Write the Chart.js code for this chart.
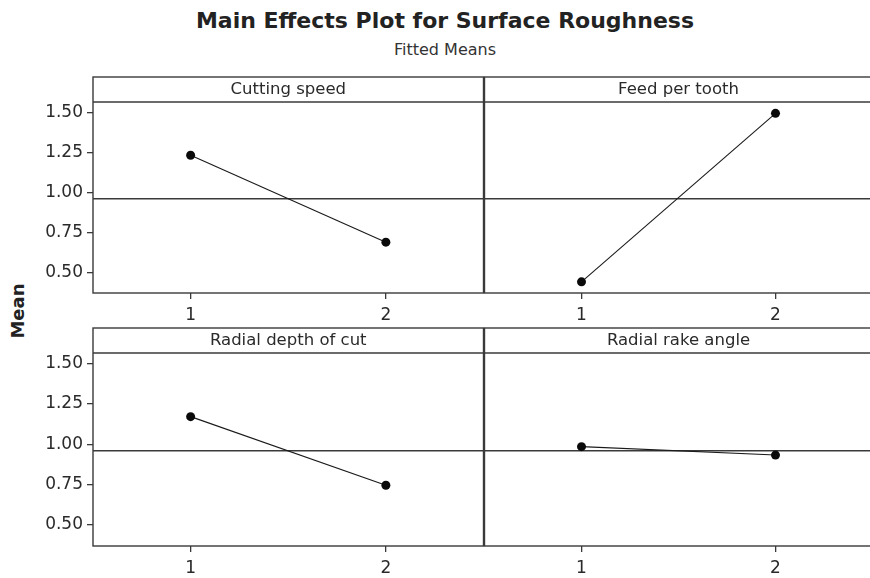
<!DOCTYPE html>
<html lang="en">
<head>
    <meta charset="UTF-8">
    <title>Main Effects Plot for Surface Roughness</title>
    <script src="https://cdnjs.cloudflare.com/ajax/libs/Chart.js/4.4.0/chart.umd.min.js"></script>
    <style>
        body {
            margin: 0;
            width: 870px;
            height: 578px;
            overflow: hidden;
            position: relative;
            background: #fff;
            font-family: "DejaVu Sans", sans-serif;
            color: #222;
        }
        .title {
            position: absolute;
            left: 0;
            width: 890px;
            top: 8px;
            text-align: center;
            font-weight: bold;
            font-size: 22px;
            line-height: 26px;
        }
        .subtitle {
            position: absolute;
            left: 0;
            width: 890px;
            top: 40px;
            text-align: center;
            font-size: 16px;
            line-height: 19px;
            color: #333;
        }
        .ylabel {
            position: absolute;
            left: 17px;
            top: 311px;
            font-weight: bold;
            font-size: 18px;
            transform: translate(-50%, -50%) rotate(-90deg);
        }
        .panel {
            position: absolute;
        }
    </style>
</head>
<body>
    <div class="title">Main Effects Plot for Surface Roughness</div>
    <div class="subtitle">Fitted Means</div>
    <div class="ylabel">Mean</div>

    <canvas id="p0" class="panel" width="488" height="255" style="left:0px;top:70px"></canvas>
    <canvas id="p1" class="panel" width="397" height="255" style="left:480px;top:70px"></canvas>
    <canvas id="p2" class="panel" width="488" height="256" style="left:0px;top:322px"></canvas>
    <canvas id="p3" class="panel" width="397" height="256" style="left:480px;top:322px"></canvas>

    <script>
        // factor names and fitted means at levels 1 and 2
        const factors = ['Cutting speed', 'Feed per tooth', 'Radial depth of cut', 'Radial rake angle'];
        const levels = [1, 2];
        const cuttingSpeed = [1.232, 0.688];
        const feedPerTooth = [0.440, 1.494];
        const radialDepth = [1.171, 0.746];
        const rakeAngle = [0.985, 0.933];
        const grandMean = 0.96;
        const yTicks = [0.50, 0.75, 1.00, 1.25, 1.50];

        const series = [cuttingSpeed, feedPerTooth, radialDepth, rakeAngle];
        const lineColor = '#3a3a3a';
        const textColor = '#2a2a2a';
        const headerHeight = 25;

        // panel box, header strip and grand mean line
        const panelFrame = {
            id: 'panelFrame',
            beforeDatasetsDraw(chart, args, opts) {
                const ctx = chart.ctx;
                const a = chart.chartArea;
                const yPix = chart.scales.y.getPixelForValue(grandMean);
                ctx.save();
                ctx.strokeStyle = lineColor;
                ctx.lineWidth = 1.4;
                ctx.beginPath();
                ctx.moveTo(a.left, yPix);
                ctx.lineTo(a.right, yPix);
                ctx.stroke();
                ctx.strokeRect(a.left, a.top - headerHeight, a.right - a.left, a.bottom - a.top + headerHeight);
                ctx.beginPath();
                ctx.moveTo(a.left, a.top);
                ctx.lineTo(a.right, a.top);
                ctx.stroke();
                ctx.fillStyle = textColor;
                ctx.font = '16.5px "DejaVu Sans"';
                ctx.textAlign = 'center';
                ctx.textBaseline = 'middle';
                ctx.fillText(opts.title, (a.left + a.right) / 2, a.top - headerHeight / 2);
                ctx.restore();
            }
        };

        function makePanel(idx) {
            const isLeft = idx % 2 === 0;
            const isTop = idx < 2;
            const values = series[idx];
            new Chart(document.getElementById('p' + idx), {
                type: 'line',
                data: {
                    datasets: [{
                        data: values.map((v, i) => ({ x: levels[i], y: v })),
                        borderColor: '#1a1a1a',
                        borderWidth: 1.1,
                        pointRadius: 4.5,
                        pointBackgroundColor: '#0a0a0a',
                        pointBorderColor: '#0a0a0a',
                        pointBorderWidth: 0
                    }]
                },
                options: {
                    responsive: false,
                    animation: false,
                    events: [],
                    layout: {
                        padding: {
                            left: isLeft ? 3 : 2,
                            right: 2,
                            top: isTop ? 32 : 31,
                            bottom: 2
                        }
                    },
                    plugins: {
                        legend: { display: false },
                        tooltip: { enabled: false },
                        panelFrame: { title: factors[idx] }
                    },
                    scales: {
                        x: {
                            type: 'linear',
                            min: 0.5,
                            max: 2.5,
                            afterBuildTicks: s => { s.ticks = levels.map(v => ({ value: v })); },
                            afterFit: s => { s.height = 30; },
                            ticks: {
                                color: textColor,
                                font: { family: 'DejaVu Sans', size: 17 },
                                padding: 6,
                                callback: v => String(v)
                            },
                            grid: {
                                drawOnChartArea: false,
                                tickLength: 6,
                                color: lineColor,
                                lineWidth: 1.3
                            },
                            border: { display: false }
                        },
                        y: {
                            display: isLeft,
                            min: 0.37,
                            max: 1.565,
                            afterBuildTicks: s => { s.ticks = yTicks.map(v => ({ value: v })); },
                            afterFit: s => { s.width = isLeft ? 90 : 0; },
                            ticks: {
                                color: textColor,
                                font: { family: 'DejaVu Sans', size: 17 },
                                padding: 4,
                                callback: v => v.toFixed(2)
                            },
                            grid: {
                                drawOnChartArea: false,
                                tickLength: 6,
                                color: lineColor,
                                lineWidth: 1.3
                            },
                            border: { display: false }
                        }
                    }
                },
                plugins: [panelFrame]
            });
        }

        [0, 1, 2, 3].forEach(makePanel);
    </script>
</body>
</html>
